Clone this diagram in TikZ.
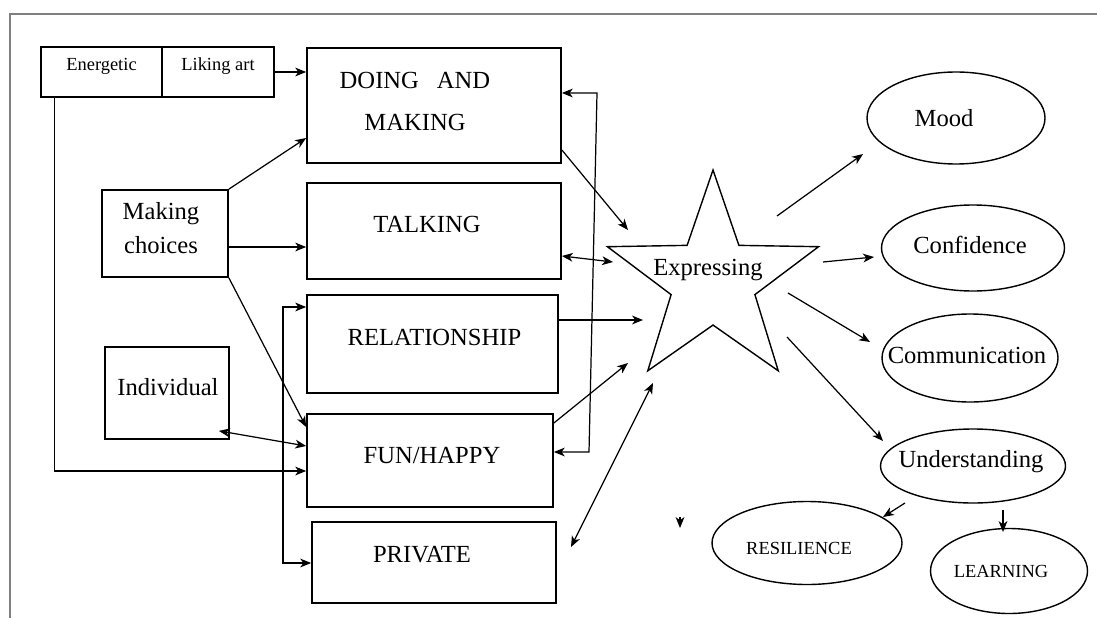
\documentclass[tikz,border=0pt]{standalone}
\usepackage{fontspec}
\setmainfont{Liberation Serif}
\usetikzlibrary{shapes.geometric,arrows.meta}
\newdimen\pxu \pxu=0.02cm

\tikzset{
  box/.style={draw, line width=1pt, inner sep=0pt},
  oval/.style={draw, ellipse, line width=0.8pt, inner sep=0pt},
  txt/.style={font=\fontsize{14}{17}\selectfont, align=center},
  smalltxt/.style={font=\fontsize{10.5}{12}\selectfont},
  arr/.style={-{Stealth[length=6.2pt,width=5pt,inset=1.8pt]}, line width=0.7pt},
  dbl/.style={{Stealth[length=6.2pt,width=5pt,inset=1.8pt]}-{Stealth[length=6.2pt,width=5pt,inset=1.8pt]}, line width=0.7pt},
}

\begin{document}
\begin{tikzpicture}[x=0.02cm, y=-0.02cm]
\useasboundingbox (0,0) rectangle (1097,618);
% frame
\draw[black!50, line width=1.3pt] (10,618) -- (10,14) -- (1097,14);

% left column
\node[box, minimum width=121\pxu, minimum height=50\pxu, label={[smalltxt, yshift=6\pxu]center:Energetic}] (energetic) at (101.5,72) {};
\node[box, minimum width=112\pxu, minimum height=50\pxu, label={[smalltxt, yshift=6\pxu]center:Liking art}] (likingart) at (218,72) {};
\node[box, minimum width=126\pxu, minimum height=87\pxu, label={[txt, font=\fontsize{14}{19.3}\selectfont, xshift=-4\pxu, yshift=5\pxu]center:Making\\choices}] (choices) at (165,233.5) {};
\node[box, minimum width=124\pxu, minimum height=92\pxu, label={[txt, xshift=1\pxu, yshift=6\pxu]center:Individual}] (individual) at (167,393) {};

% middle column
\node[box, minimum width=254\pxu, minimum height=115\pxu, label={[txt, font=\fontsize{14}{24.4}\selectfont, xshift=-19\pxu, yshift=4\pxu]center:DOING\hspace{18\pxu}AND\\MAKING}] (doing) at (434,105.5) {};
\node[box, minimum width=254\pxu, minimum height=96\pxu, label={[txt, xshift=-7\pxu, yshift=7\pxu]center:TALKING}] (talking) at (434,231) {};
\node[box, minimum width=251\pxu, minimum height=98\pxu, label={[txt, xshift=2\pxu, yshift=7\pxu]center:RELATIONSHIP}] (relation) at (432.5,344) {};
\node[box, minimum width=246\pxu, minimum height=93\pxu, label={[txt, xshift=2\pxu, yshift=5.5\pxu]center:FUN/HAPPY}] (fun) at (430,460.5) {};
\node[box, minimum width=244\pxu, minimum height=81\pxu, label={[txt, xshift=-12\pxu, yshift=7.5\pxu]center:PRIVATE}] (private) at (434,562.5) {};

% star
\node[draw, star, star points=5, star point ratio=2.52, minimum size=222\pxu, inner sep=0pt, line width=0.8pt, label={[txt, xshift=-5\pxu, yshift=11\pxu]center:Expressing}] (expr) at (713,281) {};

% right column
\node[oval, minimum width=178\pxu, minimum height=92\pxu, label={[txt, xshift=-12\pxu]center:Mood}] (mood) at (956,118) {};
\node[oval, minimum width=183\pxu, minimum height=86\pxu, label={[txt, xshift=-3\pxu, yshift=3\pxu]center:Confidence}] (confidence) at (973,248) {};
\node[oval, minimum width=176\pxu, minimum height=88\pxu, label={[txt, xshift=-3\pxu, yshift=3\pxu]center:Communication}] (communication) at (970,358) {};
\node[oval, minimum width=185\pxu, minimum height=74\pxu, label={[txt, xshift=-2\pxu, yshift=4\pxu]center:Understanding}] (understanding) at (973,466) {};
\node[oval, minimum width=190\pxu, minimum height=83\pxu, label={[smalltxt, xshift=-8\pxu, yshift=-5\pxu]center:RESILIENCE}] (resilience) at (807,543) {};
\node[oval, minimum width=157\pxu, minimum height=85\pxu, label={[smalltxt, xshift=-8\pxu]center:LEARNING}] (learning) at (1009,571) {};

% free ends near the star and ovals
\coordinate (s1) at (628,230);
\coordinate (s2) at (613,262);
\coordinate (s3) at (643,320);
\coordinate (s4) at (628,363);
\coordinate (s5) at (653,383);
\coordinate (p5) at (571,547);
\coordinate (m1) at (777,216);
\coordinate (m2) at (863,154);
\coordinate (c1) at (823,262);
\coordinate (c2) at (874,257);
\coordinate (k1) at (788,293);
\coordinate (k2) at (870,342);
\coordinate (u1) at (787,337);
\coordinate (u2) at (883,441);
\coordinate (r1) at (905,503);
\coordinate (r2) at (883,517);
\coordinate (l1) at (1003,510);
\coordinate (l2) at (1003,532);

% left side arrows
\draw[arr] (likingart.east) -- (likingart.east -| doing.west);
\draw[arr] (choices.north east) -- (doing.west |- 0,138);
\draw[arr] (choices.east |- 0,247) -- (talking.west |- 0,247);
\draw[arr] (choices.south east) -- (fun.west |- 0,427);
\draw[dbl] ([xshift=-11\pxu,yshift=9\pxu]individual.south east) -- (fun.west |- 0,446);
\draw[arr] ([xshift=14\pxu]energetic.south west) |- (fun.west |- 0,471);
\draw[dbl] (relation.west |- 0,307) -- (283,307) -- (283,563) -- (private.west |- 0,563);
\draw[dbl] (doing.east |- 0,93) -- (597,93) -- (589,452) -- (fun.east |- 0,452);

% into the star
\draw[arr] (doing.east |- 0,150) -- (s1);
\draw[dbl] (talking.east |- 0,256) -- (s2);
\draw[arr] (relation.east |- 0,320) -- (s3);
\draw[arr] (fun.east |- 0,423) -- (s4);
\draw[dbl] (p5) -- (s5);

% out of the star
\draw[arr] (m1) -- (m2);
\draw[arr] (c1) -- (c2);
\draw[arr] (k1) -- (k2);
\draw[arr] (u1) -- (u2);
\draw[arr] (r1) -- (r2);
\draw[arr] (l1) -- (l2);
\draw[arr] (680,517) -- (680,528);
\end{tikzpicture}
\end{document}
